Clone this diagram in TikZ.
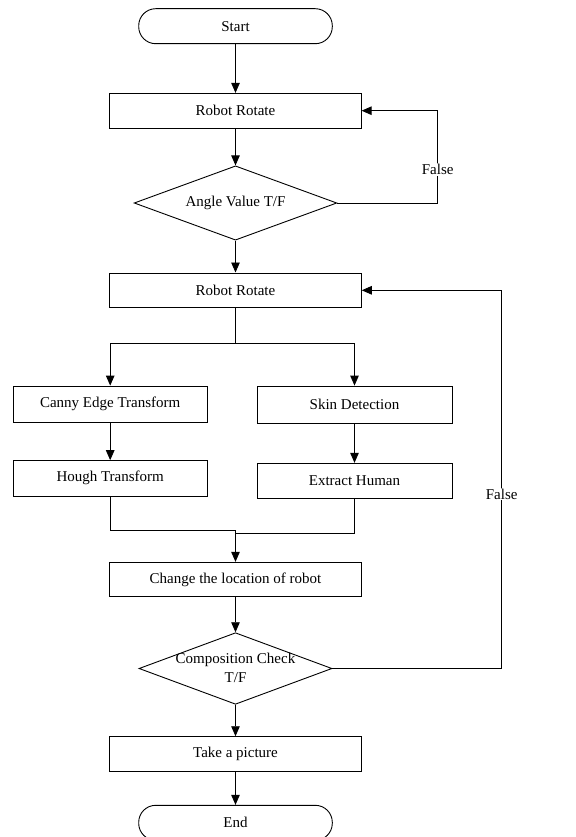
\documentclass[tikz,border=0pt]{standalone}
\usepackage{fontspec}
\setmainfont{Liberation Serif}
\usetikzlibrary{arrows.meta,shapes.geometric}
\begin{document}
\begin{tikzpicture}[x=1pt,y=-1pt,
  every node/.style={font=\fontsize{15}{19}\selectfont},
  proc/.style={draw, rectangle, line width=0.9pt, inner sep=0pt},
  term/.style={draw, rectangle, rounded corners=17pt, line width=0.9pt, inner sep=0pt, minimum width=193.6pt, minimum height=35pt},
  dia/.style={draw, diamond, line width=0.9pt, inner sep=0pt},
  conn/.style={line width=0.9pt},
  arr/.style={conn, -{Triangle[length=10pt,width=8.5pt]}},
  lbl/.style={fill=white, inner sep=1pt}]
\useasboundingbox (0,0) rectangle (575,837);

\node[term] (start) at (235.5,26.2) {Start};
\node[proc, minimum width=251.3pt, minimum height=34.7pt] (rr1) at (235.5,110.7) {Robot Rotate};
\node[dia, minimum width=202.7pt, minimum height=74.3pt] (d1) at (235.5,203) {};
\node (d1t) at (d1) {Angle Value T/F};
\node[proc, minimum width=251.6pt, minimum height=34.7pt] (rr2) at (235.5,290.3) {Robot Rotate};
\node[proc, minimum width=193.7pt, minimum height=36.3pt] (canny) at (110.2,404.2) {Canny Edge Transform};
\node[proc, minimum width=195pt, minimum height=37.3pt] (skin) at (354.5,404.7) {Skin Detection};
\node[proc, minimum width=193.7pt, minimum height=35.3pt] (hough) at (110.2,478.3) {Hough Transform};
\node[proc, minimum width=195pt, minimum height=35pt] (extract) at (354.5,480.8) {Extract Human};
\node[proc, minimum width=251.6pt, minimum height=34.4pt] (change) at (235.5,579.5) {Change the location of robot};
\node[dia, minimum width=193pt, minimum height=71.6pt] (d2) at (235.5,668.5) {};
\node[align=center] (d2t) at (235.5,667.8) {Composition Check\\T/F};
\node[proc, minimum width=251.6pt, minimum height=35pt] (take) at (235.5,754.2) {Take a picture};
\node[term] (end) at (235.5,822.8) {End};

\coordinate (split) at (235.5,343.7);
\coordinate (j1) at (235.5,530);
\coordinate (j2) at (235.5,533);
\coordinate (f1) at (437.7,203);
\coordinate (f2) at (501.7,668.5);

\draw[arr] (start) -- (rr1);
\draw[arr] (rr1) -- (d1);
\draw[arr] (d1) -- (rr2);
\draw[arr] (d1.east) -- (f1) |- (rr1.east);
\node[lbl] (false1) at (437.7,169.5) {False};
\draw[conn] (rr2) -- (split);
\draw[arr] (split) -| (canny);
\draw[arr] (split) -| (skin);
\draw[arr] (canny) -- (hough);
\draw[arr] (skin) -- (extract);
\draw[conn] (hough.south) |- (j1);
\draw[conn] (extract.south) |- (j2);
\draw[arr] (j1) -- (change);
\draw[arr] (change) -- (d2);
\draw[arr] (d2.east) -- (f2) |- (rr2.east);
\node[lbl] (false2) at (501.7,494) {False};
\draw[arr] (d2) -- (take);
\draw[arr] (take) -- (end);
\end{tikzpicture}
\end{document}
